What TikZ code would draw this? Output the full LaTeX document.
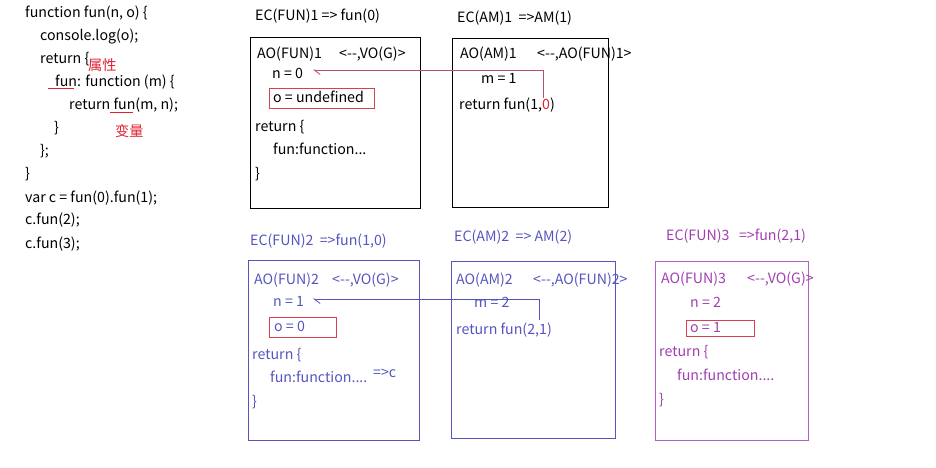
\documentclass[tikz,border=0pt]{standalone}
\usepackage{fontspec}
\setmainfont{Noto Sans CJK SC}
\usetikzlibrary{arrows.meta}
\definecolor{maroonln}{HTML}{B5506E}
\definecolor{redbox}{HTML}{D8404F}
\definecolor{blueclr}{HTML}{5555C0}
\definecolor{purpclr}{HTML}{B060C0}
\definecolor{purptxt}{HTML}{A040B0}
\definecolor{redtxt}{HTML}{E02030}
\begin{document}
\begin{tikzpicture}[x=1pt,y=-1pt,
  txt/.style={anchor=base west,inner sep=0pt,font=\fontsize{14.2}{16}\selectfont},
  frame/.style={line width=0.8pt},
  valbox/.style={draw=redbox,line width=0.8pt},
  link/.style={line width=0.8pt,-{Straight Barb[left,length=6pt,width=9pt]}}]
\useasboundingbox (0,0) rectangle (936,467);
% code
\node[txt] (c1) at (25,17) {function fun(n, o) \{};
\node[txt] (c2) at (40,40) {console.log(o);};
\node[txt] (c3) at (40,63) {return \{};
\node[txt] (c4) at (55,86) {fun: function (m) \{};
\node[txt] (c5) at (69,109) {return fun(m, n);};
\node[txt] (c6) at (54,132) {\}};
\node[txt] (c7) at (40,155) {\};};
\node[txt] (c8) at (25,178) {\}};
\node[txt] (c9) at (25,202) {var c = fun(0).fun(1);};
\node[txt] (c10) at (25,224) {c.fun(2);};
\node[txt] (c11) at (25,248) {c.fun(3);};
\node[txt,text=redtxt] (attr) at (88,70) {属性};
\node[txt,text=redtxt] (varl) at (115,136) {变量};
\draw[redtxt,line width=0.8pt] (48,88) -- (74,88);
\draw[redtxt,line width=0.8pt] (110,112) -- (133,112);
% box 1
\node[txt] (ec1) at (255,20) {EC(FUN)1 => fun(0)};
\draw[frame] (250,37) rectangle (420,208);
\node[txt] (ao1) at (257,58) {AO(FUN)1};
\node[txt] (sc1) at (339,58) {<-{}-,VO(G)>};
\node[txt] (n1) at (272,78) {n = 0};
\draw[valbox] (269,88) rectangle (374,108);
\node[txt] (o1) at (273,102) {o = undefined};
\node[txt] (r1) at (255,131) {return \{};
\node[txt] (f1) at (273,154) {fun:function...};
\node[txt] (b1) at (255,178) {\}};
% box 2
\node[txt] (ec2) at (457,22) {EC(AM)1\ \ =>AM(1)};
\draw[frame] (452,38) rectangle (608,207);
\node[txt] (ao2) at (460,58) {AO(AM)1};
\node[txt] (sc2) at (537,58) {<-{}-,AO(FUN)1>};
\node[txt] (m1) at (481,83) {m = 1};
\node[txt] (rt1) at (459,109) {return fun(1,\textcolor{redtxt}{0})};
\coordinate (s1) at (543,98);
\coordinate (t1) at (313,70);
\draw[link,maroonln] (s1) |- (t1);
% row 2 box 1
\begin{scope}[blueclr]
\node[txt,text=blueclr] (ec3) at (250,245) {EC(FUN)2\ \ =>fun(1,0)};
\draw[frame] (248,260) rectangle (419,440);
\node[txt,text=blueclr] (ao3) at (254,284) {AO(FUN)2};
\node[txt,text=blueclr] (sc3) at (332,284) {<-{}-,VO(G)>};
\node[txt,text=blueclr] (n2) at (273,306) {n = 1};
\draw[valbox] (269,317) rectangle (336,337);
\node[txt,text=blueclr] (o2) at (274,331) {o = 0};
\node[txt,text=blueclr] (r2) at (252,359) {return \{};
\node[txt,text=blueclr] (f2) at (270,382) {fun:function....};
\node[txt,text=blueclr] (rc) at (373,377) {=>c};
\node[txt,text=blueclr] (b2) at (252,406) {\}};
% row 2 box 2
\node[txt,text=blueclr] (ec4) at (454,241) {EC(AM)2\ \ => AM(2)};
\draw[frame] (451,261) rectangle (615,438);
\node[txt,text=blueclr] (ao4) at (456,284) {AO(AM)2};
\node[txt,text=blueclr] (sc4) at (533,284) {<-{}-,AO(FUN)2>};
\node[txt,text=blueclr] (m2) at (474,307) {m = 2};
\node[txt,text=blueclr] (rt2) at (456,334) {return fun(2,1)};
\coordinate (s2) at (539,320);
\coordinate (t2) at (313,299);
\draw[link] (s2) |- (t2);
\end{scope}
% row 2 box 3
\begin{scope}[purpclr]
\node[txt,text=purptxt] (ec5) at (666,240) {EC(FUN)3\ \ \ =>fun(2,1)};
\draw[frame] (655,261) rectangle (808,440);
\node[txt,text=purptxt] (ao5) at (661,283) {AO(FUN)3};
\node[txt,text=purptxt] (sc5) at (747,283) {<-{}-,VO(G)>};
\node[txt,text=purptxt] (n3) at (690,307) {n = 2};
\draw[valbox] (686,320) rectangle (754,336);
\node[txt,text=purptxt] (o3) at (690,332) {o = 1};
\node[txt,text=purptxt] (r3) at (659,356) {return\ \{};
\node[txt,text=purptxt] (f3) at (677,380) {fun:function....};
\node[txt,text=purptxt] (b3) at (659,404) {\}};
\end{scope}
\end{tikzpicture}
\end{document}
